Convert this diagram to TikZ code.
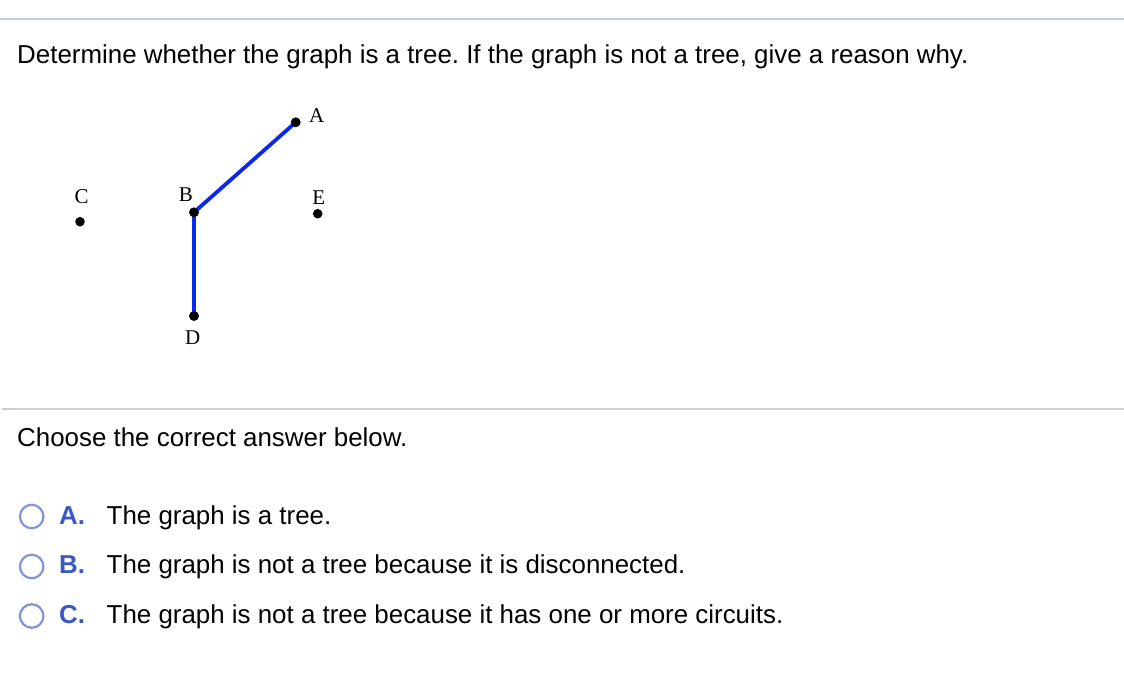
\documentclass[tikz,border=0pt]{standalone}
\usepackage{fontspec}
\setmainfont{Liberation Sans}
\newfontfamily\labelserif{Liberation Serif}
\frenchspacing
\definecolor{sepgray}{RGB}{202,206,218}
\definecolor{edgeblue}{RGB}{12,40,238}
\definecolor{optblue}{RGB}{58,88,196}
\definecolor{radioblue}{RGB}{128,148,218}
\tikzset{
  txt/.style={anchor=base west, inner sep=0pt, font=\fontsize{25.9}{30}\selectfont},
  opt/.style={anchor=base west, inner sep=0pt, font=\fontsize{25.9}{30}\selectfont\bfseries, text=optblue},
  vert/.style={circle, fill=black, inner sep=0pt, minimum size=9.6pt},
  vlabel/.style={inner sep=0pt, font=\fontsize{21}{25}\labelserif},
  edge/.style={edgeblue, line width=3.8pt},
  sep/.style={sepgray, line width=2pt},
  radio/.style={circle, draw=radioblue, line width=2.2pt, inner sep=0pt, minimum size=23.5pt}
}
\begin{document}
\begin{tikzpicture}[x=1pt,y=-1pt]
\useasboundingbox (0,0) rectangle (1124,696);
\coordinate (s1a) at (0,18.5);
\coordinate (s1b) at (1124,18.5);
\coordinate (s2a) at (2,408.5);
\coordinate (s2b) at (1124,408.5);
\draw[sep] (s1a) -- (s1b);
\draw[sep] (s2a) -- (s2b);
\node[txt] (title) at (17,63) {Determine whether the graph is a tree. If the graph is not a tree, give a reason why.};
% graph
\node[vert] (A) at (295.7,122.3) {};
\node[vert] (B) at (194,212.3) {};
\node[vert] (C) at (80,221.7) {};
\node[vert] (D) at (194,316) {};
\node[vert] (E) at (317.7,213.7) {};
\draw[edge] (A.center) -- (B.center);
\draw[edge] (B.center) -- (D.center);
\node[vert] at (A) {};
\node[vert] at (B) {};
\node[vert] at (D) {};
\node[vlabel] (lA) at (316.7,115.7) {A};
\node[vlabel] (lB) at (186,194.3) {B};
\node[vlabel] (lC) at (81.7,196.7) {C};
\node[vlabel] (lE) at (318.7,197.3) {E};
\node[vlabel] (lD) at (192.7,337.3) {D};
% question
\node[txt] (choose) at (17,446) {Choose the correct answer below.};
\node[radio] (rA) at (31.7,516.5) {};
\node[radio] (rB) at (31.7,566.5) {};
\node[radio] (rC) at (31.7,616) {};
\node[opt] (oA) at (59,524) {A.};
\node[opt] (oB) at (59,573.5) {B.};
\node[opt] (oC) at (59,623) {C.};
\node[txt] (tA) at (106.5,524) {The graph is a tree.};
\node[txt] (tB) at (106.5,573.5) {The graph is not a tree because it is disconnected.};
\node[txt] (tC) at (106.5,623) {The graph is not a tree because it has one or more circuits.};
\end{tikzpicture}
\end{document}
